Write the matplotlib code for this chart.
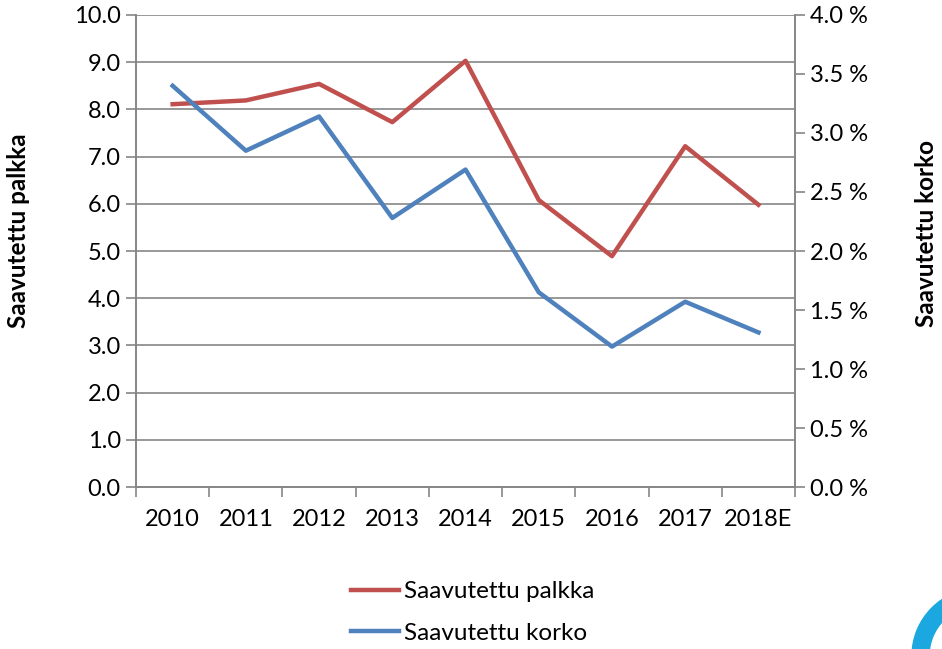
import numpy as np
import matplotlib.pyplot as plt
from matplotlib.patches import Wedge

# Data
years = ['2010', '2011', '2012', '2013', '2014', '2015', '2016', '2017', '2018E']
palkka = [8.11, 8.19, 8.54, 7.73, 9.03, 6.08, 4.89, 7.22, 5.98]
korko = [3.40, 2.85, 3.14, 2.28, 2.69, 1.65, 1.19, 1.57, 1.31]

red = '#C0504D'
blue = '#4F81BD'
grey = '#868686'

plt.rcParams['font.family'] = ['Lato', 'DejaVu Sans']

fig = plt.figure(figsize=(9.42, 6.49), dpi=100)

# background axes in pixel units, only for the logo fragment in the corner
bg = fig.add_axes([0, 0, 1, 1], zorder=-1)
bg.set_xlim(0, 942)
bg.set_ylim(649, 0)
bg.set_aspect('equal')
bg.axis('off')
bg.add_patch(Wedge((980, 656), 68, 0, 360, width=17, color='#1BA8E0'))

ax = fig.add_axes([0.1444, 0.2496, 0.6996, 0.7273])
ax2 = ax.twinx()

x = np.arange(len(years))
l1, = ax.plot(x, palkka, color=red, lw=3.2, label='Saavutettu palkka')
l2, = ax2.plot(x, korko, color=blue, lw=3.2, label='Saavutettu korko')

# left axis
ax.set_xlim(-0.5, len(years) - 0.5)
ax.set_ylim(0, 10)
ax.set_yticks(np.arange(0, 10.1, 1.0))
ax.set_yticklabels([f'{v:.1f}' for v in np.arange(0, 10.1, 1.0)], fontsize=17)
ax.yaxis.grid(True, color=grey, lw=1.2)
ax.set_axisbelow(True)

# category ticks on the boundaries, labels centred
ax.set_xticks(np.arange(-0.5, len(years), 1.0))
ax.set_xticklabels([])
ax.set_xticks(x, minor=True)
ax.set_xticklabels(years, minor=True, fontsize=17)
ax.tick_params(axis='x', which='minor', length=0, pad=16)
ax.tick_params(axis='x', which='major', length=7, color=grey, width=1.2)
ax.tick_params(axis='y', length=7, color=grey, width=1.2, pad=4)

# right axis
ax2.set_ylim(0, 4)
ticks_r = np.arange(0, 4.01, 0.5)
ax2.set_yticks(ticks_r)
ax2.set_yticklabels([f'{v:.1f} %' for v in ticks_r], fontsize=17)
ax2.tick_params(axis='y', length=7, color=grey, width=1.2, pad=4)

for a in (ax, ax2):
    a.spines['top'].set_visible(False)
    for s in ['left', 'right', 'bottom']:
        a.spines[s].set_color(grey)
        a.spines[s].set_linewidth(1.2)

fig.text(0.02, 0.645, 'Saavutettu palkka', rotation=90, fontsize=17.5,
         fontweight='bold', ha='center', va='center')
fig.text(0.984, 0.64, 'Saavutettu korko', rotation=90, fontsize=17.5,
         fontweight='bold', ha='center', va='center')

fig.legend(handles=[l1, l2], loc='center left', bbox_to_anchor=(0.362, 0.056),
           frameon=False, fontsize=17.5, handlelength=2.0, handletextpad=0.2,
           labelspacing=0.85, borderaxespad=0)

fig.savefig('out.png', dpi=100)
